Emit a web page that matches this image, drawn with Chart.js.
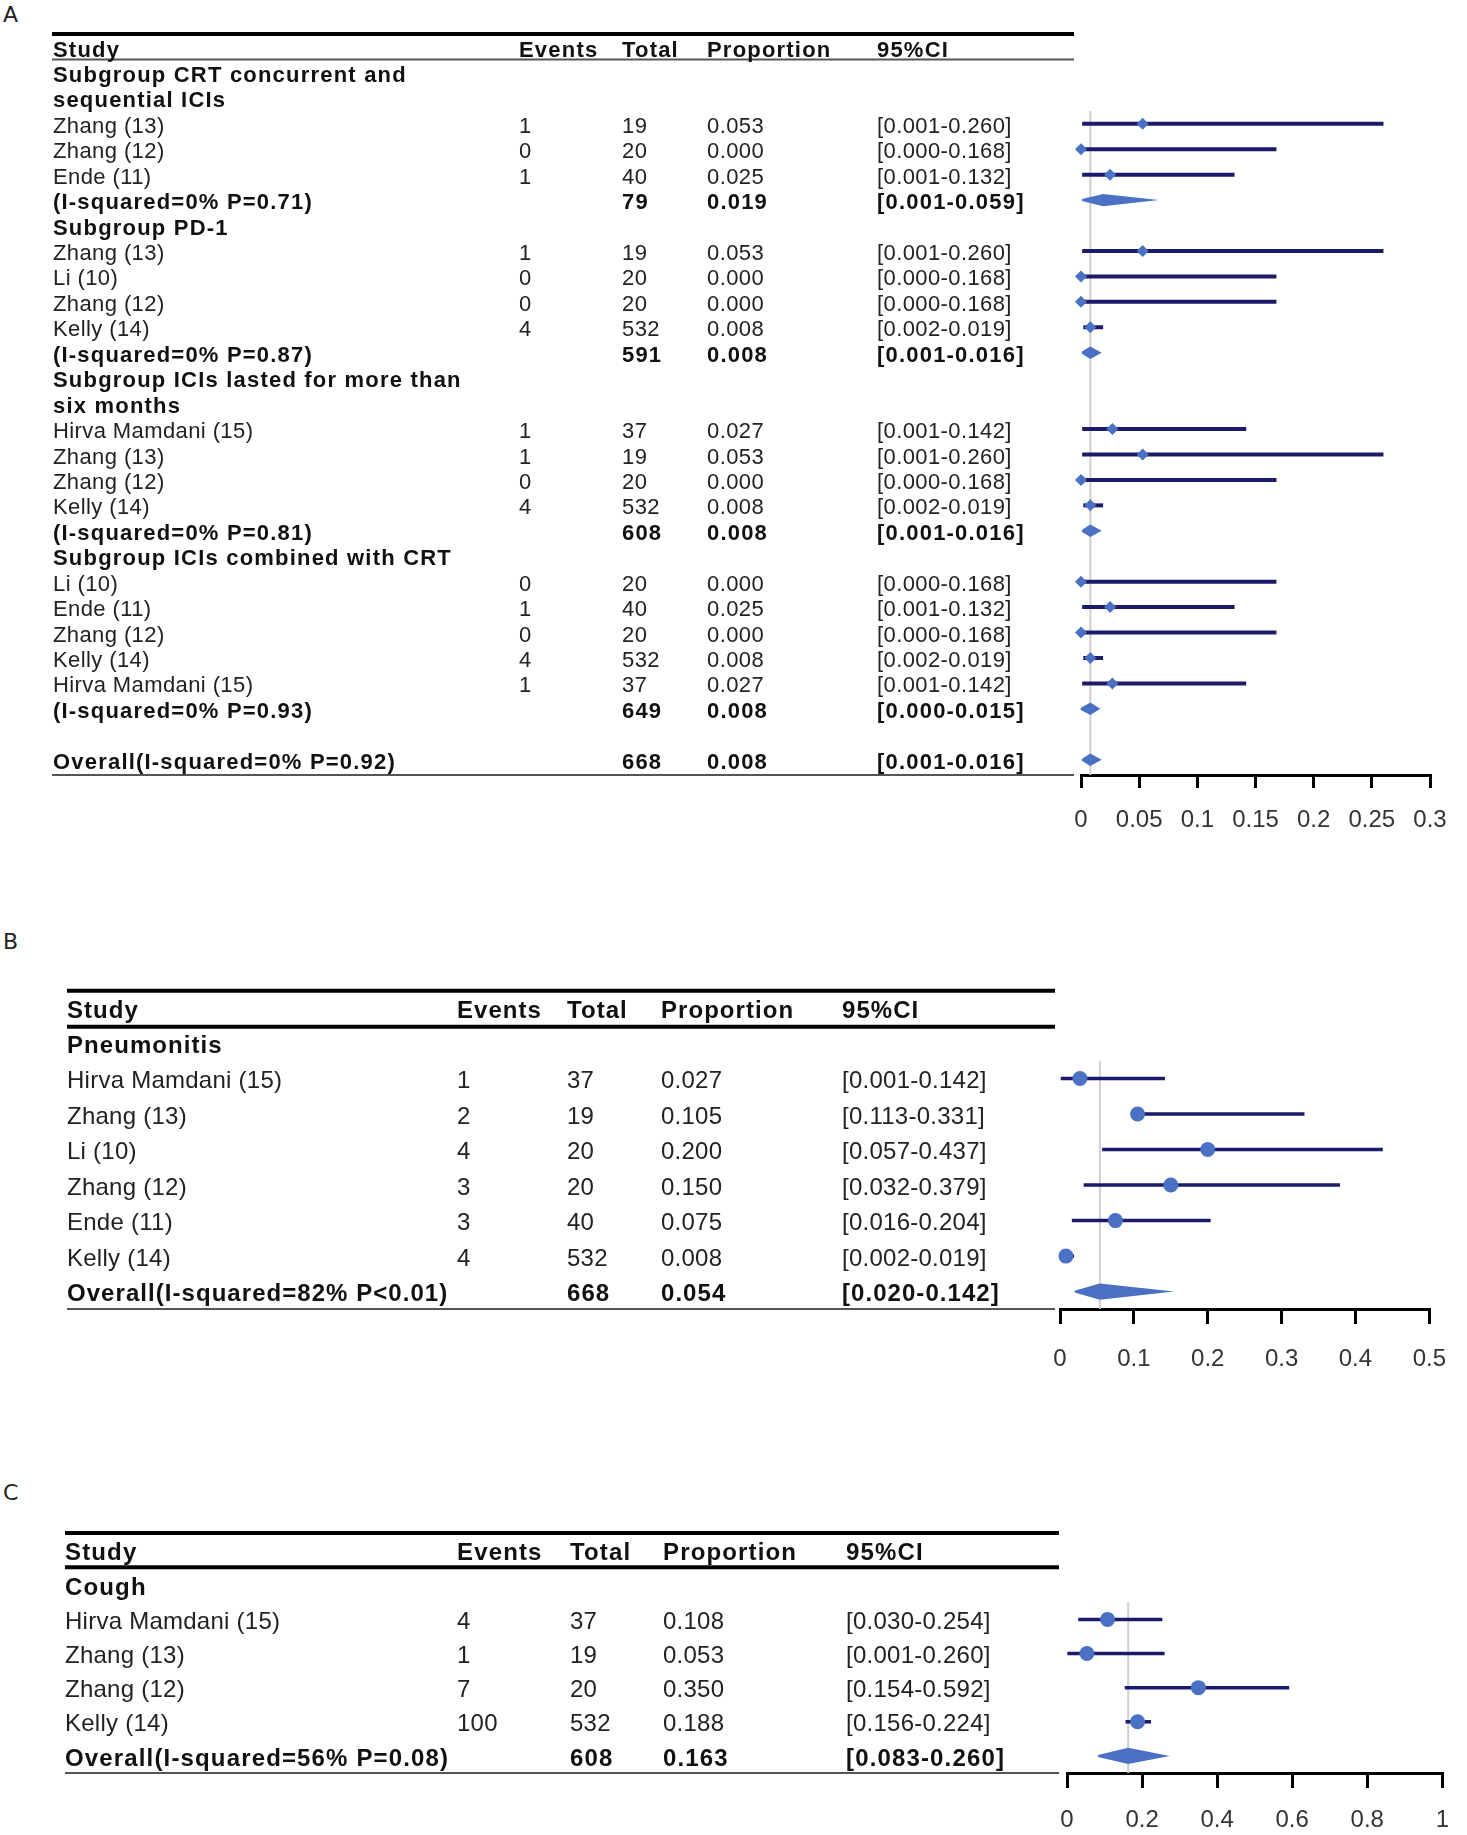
<!DOCTYPE html>
<html>
<head>
<meta charset="utf-8">
<script src="https://cdn.jsdelivr.net/npm/chart.js@4.4.1/dist/chart.umd.min.js"></script>
<style>
  body { margin: 0; background: #fff; width: 1467px; height: 1835px; position: relative; overflow: hidden; }
  canvas { position: absolute; left: 0; }
  .tag { position: absolute; left: 3px; font: 22px "DejaVu Sans", sans-serif; color: #222; }
</style>
</head>
<body>
<div class="tag" style="top:2px">A</div>
<div class="tag" style="top:929px">B</div>
<div class="tag" style="top:1480px">C</div>
<canvas id="chartA" width="1467" height="837" style="top:0px"></canvas>
<canvas id="chartB" width="1467" height="441" style="top:930px"></canvas>
<canvas id="chartC" width="1467" height="355" style="top:1480px"></canvas>
<script>
// ---- panel A : subgroups ----
const studyA = ['Subgroup CRT concurrent and', 'sequential ICIs', 'Zhang (13)', 'Zhang (12)', 'Ende (11)',
  '(I-squared=0% P=0.71)', 'Subgroup PD-1', 'Zhang (13)', 'Li (10)', 'Zhang (12)', 'Kelly (14)',
  '(I-squared=0% P=0.87)', 'Subgroup ICIs lasted for more than', 'six months', 'Hirva Mamdani (15)',
  'Zhang (13)', 'Zhang (12)', 'Kelly (14)', '(I-squared=0% P=0.81)', 'Subgroup ICIs combined with CRT',
  'Li (10)', 'Ende (11)', 'Zhang (12)', 'Kelly (14)', 'Hirva Mamdani (15)', '(I-squared=0% P=0.93)',
  '', 'Overall(I-squared=0% P=0.92)'];
const kindA = ['g', 'g', 's', 's', 's', 'd', 'g', 's', 's', 's', 's', 'd', 'g', 'g', 's', 's', 's', 's', 'd',
  'g', 's', 's', 's', 's', 's', 'd', '', 'd'];
const eventsA = [null, null, 1, 0, 1, null, null, 1, 0, 0, 4, null, null, null, 1, 1, 0, 4, null, null,
  0, 1, 0, 4, 1, null, null, null];
const totalA = [null, null, 19, 20, 40, 79, null, 19, 20, 20, 532, 591, null, null, 37, 19, 20, 532, 608, null,
  20, 40, 20, 532, 37, 649, null, 668];
const propA = [null, null, 0.053, 0.000, 0.025, 0.019, null, 0.053, 0.000, 0.000, 0.008, 0.008, null, null,
  0.027, 0.053, 0.000, 0.008, 0.008, null, 0.000, 0.025, 0.000, 0.008, 0.027, 0.008, null, 0.008];
const lowA = [null, null, 0.001, 0.000, 0.001, 0.001, null, 0.001, 0.000, 0.000, 0.002, 0.001, null, null,
  0.001, 0.001, 0.000, 0.002, 0.001, null, 0.000, 0.001, 0.000, 0.002, 0.001, 0.000, null, 0.001];
const highA = [null, null, 0.260, 0.168, 0.132, 0.059, null, 0.260, 0.168, 0.168, 0.019, 0.016, null, null,
  0.142, 0.260, 0.168, 0.019, 0.016, null, 0.168, 0.132, 0.168, 0.019, 0.142, 0.015, null, 0.016];
const ticksA = [0, 0.05, 0.1, 0.15, 0.2, 0.25, 0.3];
const tickLabelsA = ['0', '0.05', '0.1', '0.15', '0.2', '0.25', '0.3'];

// ---- panel B : pneumonitis ----
const studyB = ['Pneumonitis', 'Hirva Mamdani (15)', 'Zhang (13)', 'Li (10)', 'Zhang (12)', 'Ende (11)',
  'Kelly (14)', 'Overall(I-squared=82% P<0.01)'];
const kindB = ['g', 's', 's', 's', 's', 's', 's', 'd'];
const eventsB = [null, 1, 2, 4, 3, 3, 4, null];
const totalB = [null, 37, 19, 20, 20, 40, 532, 668];
const propB = [null, 0.027, 0.105, 0.200, 0.150, 0.075, 0.008, 0.054];
const lowB = [null, 0.001, 0.113, 0.057, 0.032, 0.016, 0.002, 0.020];
const highB = [null, 0.142, 0.331, 0.437, 0.379, 0.204, 0.019, 0.142];
const ticksB = [0, 0.1, 0.2, 0.3, 0.4, 0.5];
const tickLabelsB = ['0', '0.1', '0.2', '0.3', '0.4', '0.5'];

// ---- panel C : cough ----
const studyC = ['Cough', 'Hirva Mamdani (15)', 'Zhang (13)', 'Zhang (12)', 'Kelly (14)', 'Overall(I-squared=56% P=0.08)'];
const kindC = ['g', 's', 's', 's', 's', 'd'];
const eventsC = [null, 4, 1, 7, 100, null];
const totalC = [null, 37, 19, 20, 532, 608];
const propC = [null, 0.108, 0.053, 0.350, 0.188, 0.163];
const lowC = [null, 0.030, 0.001, 0.154, 0.156, 0.083];
const highC = [null, 0.254, 0.260, 0.592, 0.224, 0.260];
const ticksC = [0, 0.2, 0.4, 0.6, 0.8, 1];
const tickLabelsC = ['0', '0.2', '0.4', '0.6', '0.8', '1'];

const headers = ['Study', 'Events', 'Total', 'Proportion', '95%CI'];

const NAVY = '#1b1a6b';
const BLUE = '#4a71c3';
const FONT = '"Liberation Sans", Arial, sans-serif';

function forest(id, d, lay) {
  const first = d.kind.indexOf('s');
  const overall = d.kind.length - 1;
  const ds = [];
  d.kind.forEach((k, i) => {
    if (k === 's') {
      ds.push({ type: 'scatter', showLine: true, clip: false, data: [{ x: d.low[i], y: i }, { x: d.high[i], y: i }],
        borderColor: NAVY, borderWidth: lay.ciWidth, pointRadius: 0, order: 2 });
    } else if (k === 'd') {
      const h = lay.diamondH;
      ds.push({ type: 'scatter', showLine: true, clip: false,
        data: [{ x: d.low[i], y: i }, { x: d.prop[i], y: i - h }, { x: d.high[i], y: i },
               { x: d.prop[i], y: i + h }, { x: d.low[i], y: i }],
        borderColor: BLUE, backgroundColor: BLUE, borderWidth: 2, pointRadius: 0, fill: 'shape', order: 1 });
    }
  });
  ds.push({ type: 'scatter', clip: false,
    data: d.kind.map((k, i) => k === 's' ? { x: d.prop[i], y: i } : null).filter(Boolean),
    pointStyle: lay.pointStyle, pointRadius: lay.pointR, backgroundColor: BLUE, borderWidth: 0, order: 0 });
  ds.push({ type: 'scatter', showLine: true,
    data: [{ x: d.prop[overall], y: first - 0.5 }, { x: d.prop[overall], y: lay.yMax }],
    borderColor: '#cfcfcf', borderWidth: 2, pointRadius: 0, order: 3 });

  const table = {
    id: 'table' + id,
    afterDraw(chart) {
      const ctx = chart.ctx;
      const y = chart.scales.y;
      const py = v => y.getPixelForValue(v);
      ctx.save();
      const rule = (v, w, c, x0, x1) => {
        ctx.strokeStyle = c; ctx.lineWidth = w;
        ctx.beginPath(); ctx.moveTo(x0, py(v)); ctx.lineTo(x1, py(v)); ctx.stroke();
      };
      rule(lay.topRule, 4, '#000', lay.x0, lay.x1);
      rule(lay.headRule, lay.headRuleW, lay.headRuleC, lay.x0, lay.x1);
      rule(lay.yMax, 2, '#555', lay.x0, lay.x1);
      ctx.textBaseline = 'middle';
      const setFont = bold => {
        ctx.font = (bold ? 'bold ' : '') + lay.fs + 'px ' + FONT;
        ctx.letterSpacing = (bold ? lay.boldSp : lay.sp) + 'px';
        ctx.fillStyle = bold ? '#111' : '#222';
      };
      setFont(true);
      headers.forEach((t, j) => ctx.fillText(t, lay.cols[j], py(lay.head) + 3));
      d.study.forEach((name, i) => {
        const k = d.kind[i];
        const yy = py(i) + 3;
        setFont(k !== 's');
        ctx.fillText(name, lay.cols[0], yy);
        if (k !== 's' && k !== 'd') return;
        if (d.events[i] !== null) ctx.fillText(String(d.events[i]), lay.cols[1], yy);
        ctx.fillText(String(d.total[i]), lay.cols[2], yy);
        ctx.fillText(d.prop[i].toFixed(3), lay.cols[3], yy);
        ctx.fillText('[' + d.low[i].toFixed(3) + '-' + d.high[i].toFixed(3) + ']', lay.cols[4], yy);
      });
      ctx.restore();
    }
  };

  return new Chart(document.getElementById(id), {
    type: 'scatter',
    data: { datasets: ds },
    options: {
      responsive: false,
      animation: false,
      devicePixelRatio: 1,
      layout: { padding: { left: lay.left, right: lay.right, top: lay.top, bottom: 0 } },
      plugins: { legend: { display: false }, tooltip: { enabled: false } },
      scales: {
        x: {
          type: 'linear', min: d.ticks[0], max: d.ticks[d.ticks.length - 1],
          afterBuildTicks: s => { s.ticks = d.ticks.map(v => ({ value: v })); },
          afterFit: s => { s.height = 62; },
          grid: { drawOnChartArea: false, drawTicks: true, tickLength: lay.tickLen, color: '#000', lineWidth: 3 },
          border: { display: true, color: '#000', width: 3 },
          ticks: { padding: lay.tickPad, color: '#333', font: { family: FONT, size: 24 },
                   maxRotation: 0, autoSkip: false, callback: (v, i) => d.tickLabels[i] }
        },
        y: { type: 'linear', display: false, reverse: true, min: -2, max: lay.yMax }
      }
    },
    plugins: [table]
  });
}

forest('chartA', { study: studyA, kind: kindA, events: eventsA, total: totalA, prop: propA, low: lowA, high: highA,
  ticks: ticksA, tickLabels: tickLabelsA },
  { left: 1081, right: 37, top: 22, yMax: 27.6, fs: 22, sp: 0.4, boldSp: 1.2, cols: [53, 519, 622, 707, 877],
    head: -1, topRule: -1.53, headRule: -0.53, headRuleW: 2, headRuleC: '#555', x0: 52, x1: 1074,
    ciWidth: 4, diamondH: 0.2, pointStyle: 'rectRot', pointR: 6, tickLen: 13, tickPad: 18 });

forest('chartB', { study: studyB, kind: kindB, events: eventsB, total: totalB, prop: propB, low: lowB, high: highB,
  ticks: ticksB, tickLabels: tickLabelsB },
  { left: 1060, right: 31, top: 42, yMax: 7.49, fs: 24, sp: 0.25, boldSp: 1.05, cols: [67, 457, 567, 661, 842],
    head: -0.97, topRule: -1.47, headRule: -0.46, headRuleW: 4, headRuleC: '#000', x0: 67, x1: 1055,
    ciWidth: 3.5, diamondH: 0.2, pointStyle: 'circle', pointR: 7.5, tickLen: 15, tickPad: 21 });

forest('chartC', { study: studyC, kind: kindC, events: eventsC, total: totalC, prop: propC, low: lowC, high: highC,
  ticks: ticksC, tickLabels: tickLabelsC },
  { left: 1067, right: 21, top: 37, yMax: 5.5, fs: 24, sp: 0.25, boldSp: 1.15, cols: [65, 457, 570, 663, 846],
    head: -1.03, topRule: -1.53, headRule: -0.53, headRuleW: 4, headRuleC: '#000', x0: 65, x1: 1059,
    ciWidth: 3.5, diamondH: 0.21, pointStyle: 'circle', pointR: 7.5, tickLen: 15, tickPad: 18 });
</script>
</body>
</html>
